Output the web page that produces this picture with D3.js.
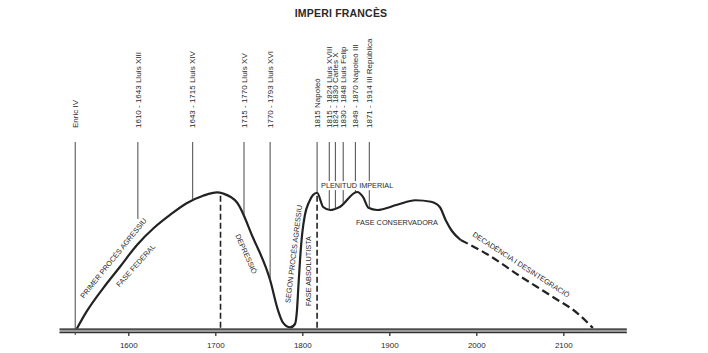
<!DOCTYPE html>
<html>
<head>
<meta charset="utf-8">
<script src="https://cdn.jsdelivr.net/npm/d3@7"></script>
<style>
  body { margin: 0; background: #fff; }
  text { font-family: "Liberation Sans", Arial, sans-serif; fill: #2a2a2a; }
</style>
</head>
<body>
<div id="container"></div>
<script>
//CONSTANTS AND GLOBALS
const width = 708,
    height = 353;

// DATA
// curve of the empire's power
const curveYears  = [1540, 1552, 1571, 1590.5, 1610, 1629, 1648, 1667, 1686, 1702, 1709, 1725, 1743, 1763, 1772, 1778, 1786, 1791.6, 1793.9, 1795.6, 1797.4, 1799.7, 1803, 1807.7, 1812.3, 1817, 1824, 1832, 1843, 1863, 1870, 1876, 1886, 1909, 1930, 1948, 1958, 1965, 1972, 1982];
const curveValues = [0, 1.22, 2.78, 4.22, 5.67, 6.78, 7.67, 8.45, 8.95, 9.18, 9.1, 8.5, 6.2, 3.33, 1.33, 0.47, 0.17, 0.4, 1.33, 3.0, 4.67, 6.33, 7.67, 8.53, 9.0, 9.15, 8.2, 8.0, 8.2, 9.2, 8.85, 8.15, 8.0, 8.35, 8.65, 8.55, 8.2, 7.3, 6.6, 6.0];
// decline, drawn dashed
const declineYears  = [1982, 2012, 2050, 2088, 2116, 2134];
const declineValues = [6.0, 5.07, 3.6, 2.2, 1.13, 0.13];

// reigns (vertical lines at the top)
const reignLabels = ["Enric IV", "1610 - 1643 Lluís XIII", "1643 - 1715 Lluís XIV", "1715 - 1770 Lluís XV", "1770 - 1793 Lluís XVI",
  "1815 Napoleó", "1815 - 1824 Lluís XVIII", "1824 - 1830 Carles X", "1830 - 1848 Lluís Felip", "1849 - 1870 Napoleó III", "1871 - 1914 III República"];
const reignYears = [1539, 1611, 1674, 1733, 1763, 1817, 1831, 1838, 1847, 1861, 1877];

// dashed verticals at the two peaks
const peakYears = [1706, 1817];

const tickYears = [1600, 1700, 1800, 1900, 2000, 2100];

const phaseLabels = ["PRIMER PROCÉS AGRESSIU", "FASE FEDERAL", "DEPRESSIÓ", "SEGON PROCÉS AGRESSIU", "FASE ABSOLUTISTA", "PLENITUD IMPERIAL", "FASE CONSERVADORA", "DECADÈNCIA I DESINTEGRACIÓ"];
const phaseYears  = [1583, 1608.5, 1735.5, 1790, 1807, 1863, 1908.8, 2051.5];
const phaseValues = [4.8, 4.3, 5.07, 5.07, 3.93, 9.63, 7.2, 4.35];

//SCALES
const xScale = d3.scaleLinear()
  .domain([1600, 2100])
  .range([128.3, 563.3]);

const yScale = d3.scaleLinear()
  .domain([0, 10])
  .range([330, 180]);

const svg = d3.select("#container")
  .append("svg")
  .attr("width", width)
  .attr("height", height);

// title
svg.append("text")
  .attr("x", 341)
  .attr("y", 17)
  .attr("text-anchor", "middle")
  .style("font-size", "10.5px")
  .style("font-weight", "bold")
  .style("letter-spacing", "0.2px")
  .text("IMPERI FRANCÈS");

// main curve
const lineGen = d3.line()
  .x((d, i) => xScale(curveYears[i]))
  .y(d => yScale(d))
  .curve(d3.curveMonotoneX);

const curvePath = svg.append("path")
  .datum(curveValues)
  .attr("fill", "none")
  .attr("stroke", "#222")
  .attr("stroke-width", 2.2)
  .attr("stroke-linejoin", "round")
  .attr("d", lineGen);

const declineGen = d3.line()
  .x((d, i) => xScale(declineYears[i]))
  .y(d => yScale(d))
  .curve(d3.curveMonotoneX);

svg.append("path")
  .datum(declineValues)
  .attr("fill", "none")
  .attr("stroke", "#222")
  .attr("stroke-width", 2.2)
  .attr("stroke-dasharray", "8,4")
  .attr("d", declineGen);

// find curve y at a given x
const node = curvePath.node();
const total = node.getTotalLength();
function curveYAt(x) {
  let lo = 0, hi = total;
  for (let k = 0; k < 40; k++) {
    const mid = (lo + hi) / 2;
    if (node.getPointAtLength(mid).x < x) lo = mid; else hi = mid;
  }
  return node.getPointAtLength(lo).y;
}

// reign lines: down to the curve (Enric IV runs to the axis, Lluís XIII stops above the label)
svg.selectAll("line.reign")
  .data(reignYears)
  .join("line")
  .attr("class", "reign")
  .attr("x1", d => xScale(d))
  .attr("x2", d => xScale(d))
  .attr("y1", 142)
  .attr("y2", (d, i) => i === 0 ? 335 : i === 1 ? curveYAt(xScale(d)) - 25 : curveYAt(xScale(d)))
  .attr("stroke", "#333")
  .attr("stroke-width", 0.9);

svg.selectAll("text.reign")
  .data(reignLabels)
  .join("text")
  .attr("class", "reign")
  .attr("transform", (d, i) => `translate(${xScale(reignYears[i])}, 128) rotate(-90)`)
  .attr("dy", "0.35em")
  .style("font-size", "8px")
  .text(d => d);

// dashed verticals
svg.selectAll("line.peak")
  .data(peakYears)
  .join("line")
  .attr("class", "peak")
  .attr("x1", d => xScale(d))
  .attr("x2", d => xScale(d))
  .attr("y1", d => curveYAt(xScale(d)) + 3)
  .attr("y2", 329)
  .attr("stroke", "#222")
  .attr("stroke-width", 1.6)
  .attr("stroke-dasharray", "6,3");

// baseline (double rule)
const x0 = xScale(1521), x1 = xScale(2173);
svg.append("rect")
  .attr("x", x0).attr("y", 328.5)
  .attr("width", x1 - x0).attr("height", 4.5)
  .attr("fill", "#9a9a9a");
[329.2, 332.6].forEach(y => {
  svg.append("line")
    .attr("x1", x0).attr("x2", x1)
    .attr("y1", y).attr("y2", y)
    .attr("stroke", "#333")
    .attr("stroke-width", 1.3);
});

// axis
const xAxis = d3.axisBottom(xScale)
  .tickValues(tickYears)
  .tickFormat(d3.format("d"))
  .tickSize(4)
  .tickPadding(6);

const xAxisGroup = svg.append("g")
  .attr("class", "xAxis")
  .attr("transform", `translate(0, 332)`)
  .call(xAxis);
xAxisGroup.select(".domain").remove();
xAxisGroup.selectAll(".tick line").attr("stroke", "#333").attr("stroke-width", 1.3);
xAxisGroup.selectAll(".tick text")
  .style("font-family", "Liberation Sans, Arial, sans-serif")
  .style("font-size", "8px")
  .attr("fill", "#333");

// phase labels
const phaseAngles = [-51, -48, 66, -83, -90, 0, 0, 33];
const phase = svg.selectAll("g.phase")
  .data(phaseLabels)
  .join("g")
  .attr("class", "phase")
  .attr("transform", (d, i) => `translate(${xScale(phaseYears[i])}, ${yScale(phaseValues[i])}) rotate(${phaseAngles[i]})`);

phase.append("text")
  .attr("text-anchor", "middle")
  .attr("dy", "0.35em")
  .style("font-size", "7.3px")
  .text(d => d);

// white knock-out behind the horizontal label that sits among the reign lines
phase.filter((d, i) => i === 5).each(function() {
  const t = d3.select(this).select("text");
  const b = t.node().getBBox();
  d3.select(this).insert("rect", "text")
    .attr("x", b.x - 1).attr("y", b.y)
    .attr("width", b.width + 2).attr("height", b.height)
    .attr("fill", "#fff");
});
</script>
</body>
</html>
